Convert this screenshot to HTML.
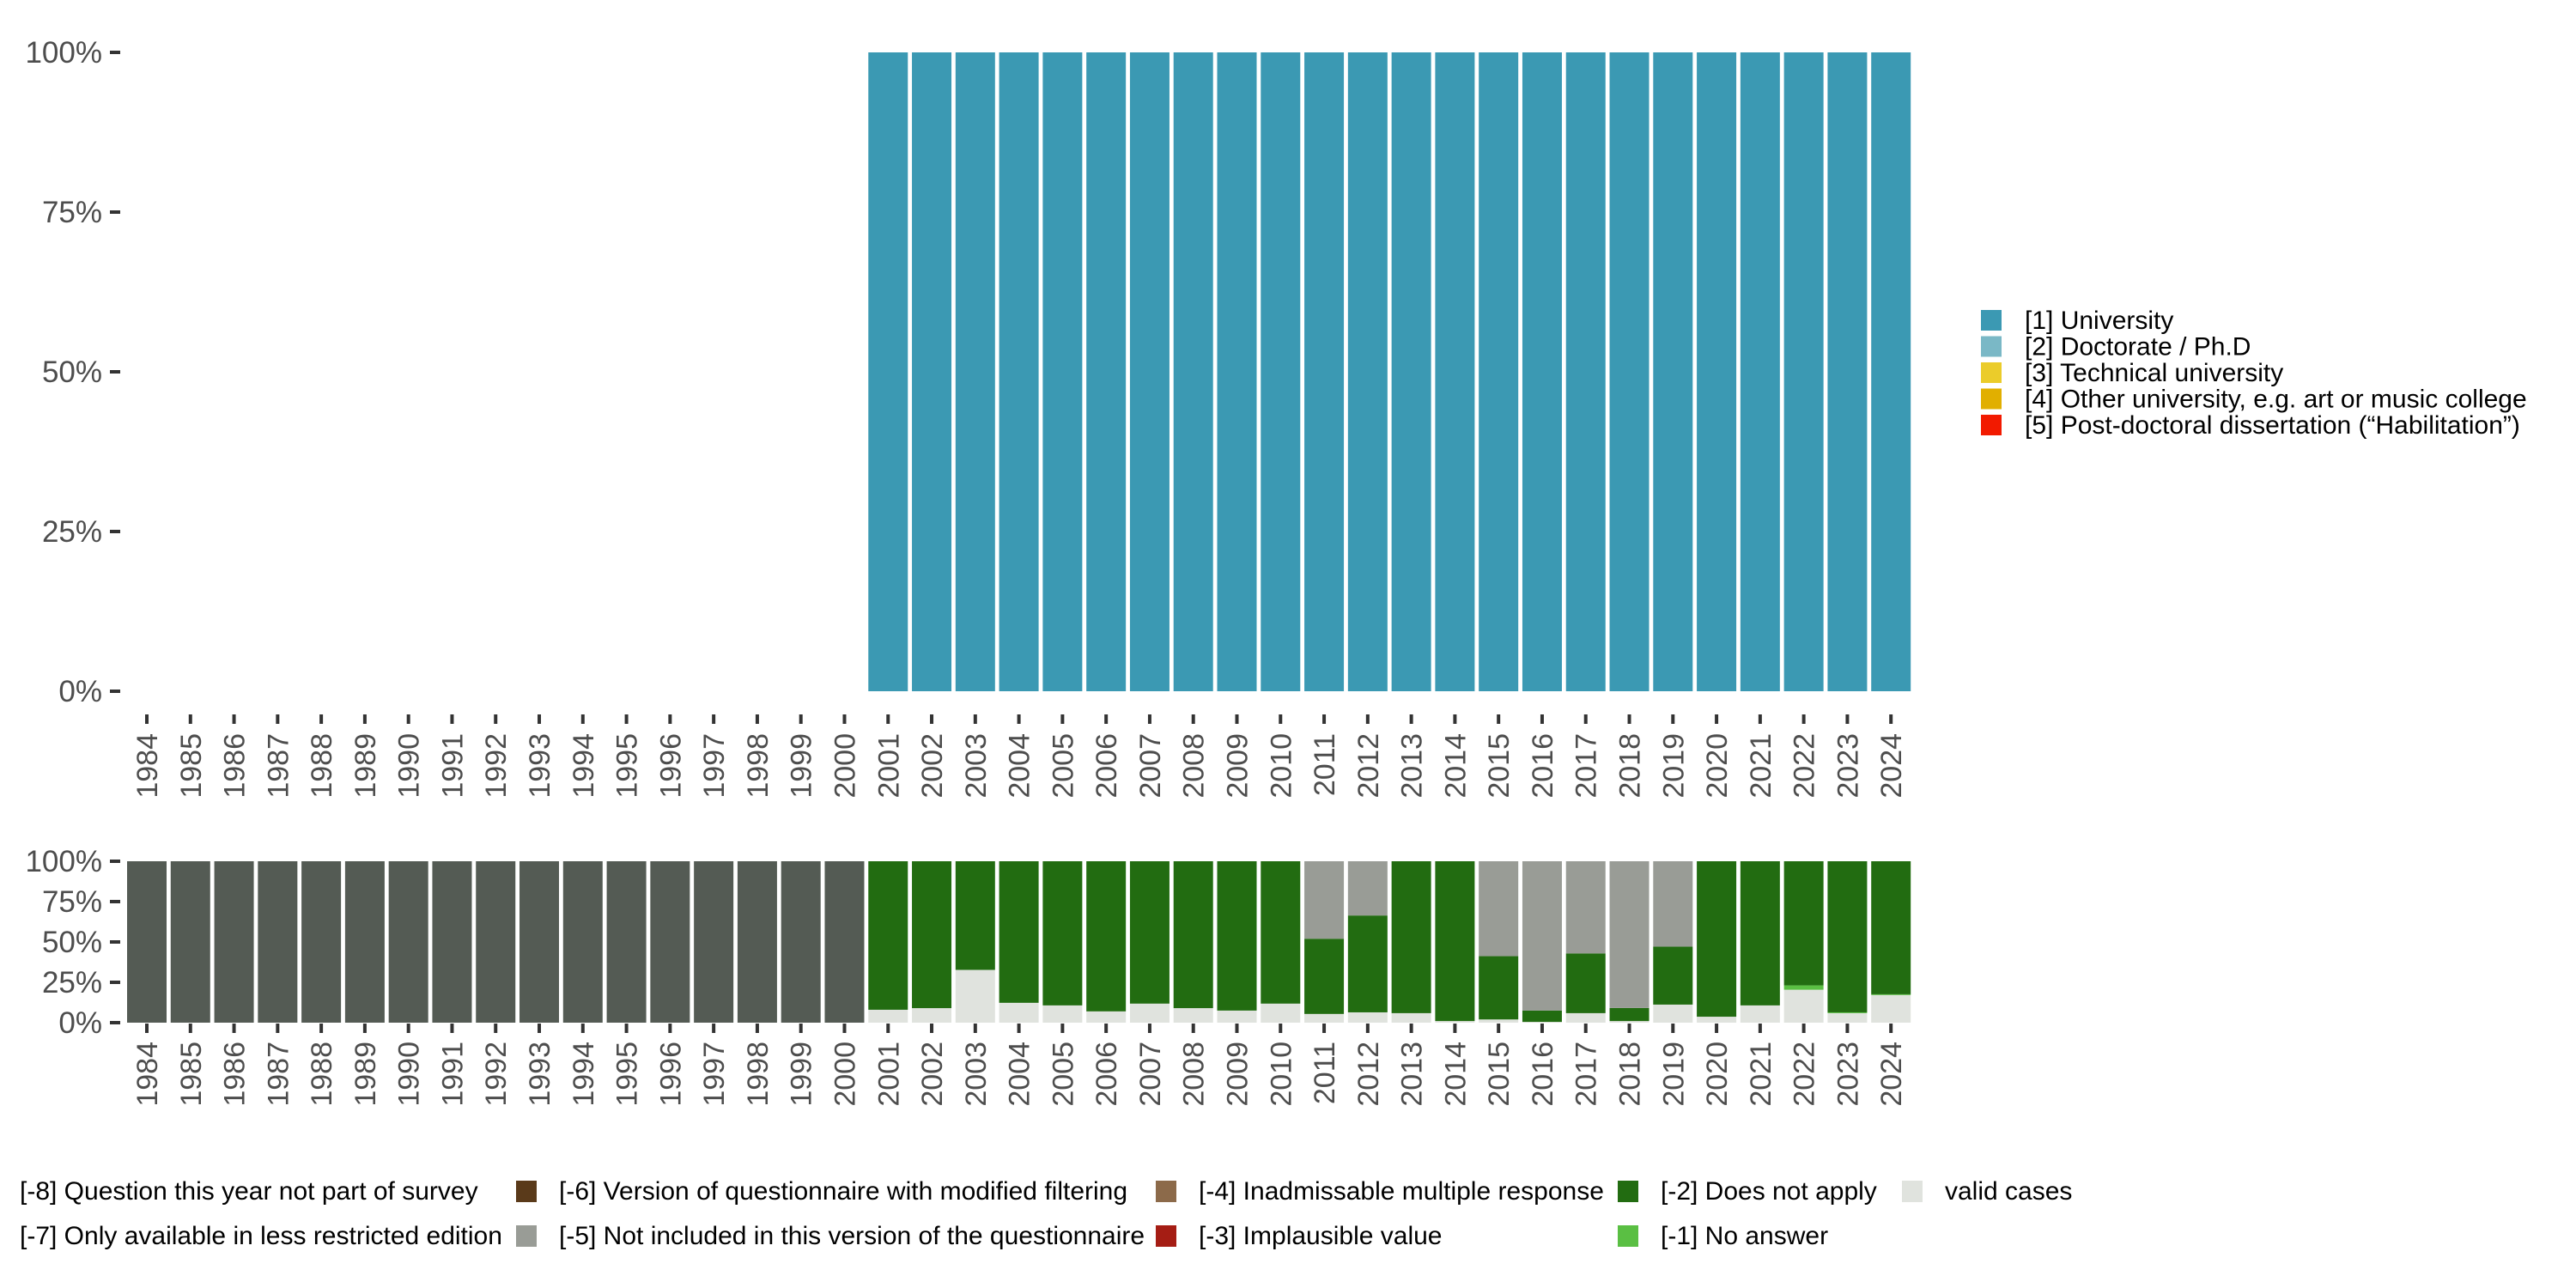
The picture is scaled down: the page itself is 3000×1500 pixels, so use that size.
<!DOCTYPE html>
<html><head><meta charset="utf-8"><style>
html,body{margin:0;padding:0;background:#fff;}
svg{display:block;font-family:"Liberation Sans",sans-serif;}
</style></head><body>
<svg id="chart" width="3000" height="1500" viewBox="0 0 3000 1500"></svg>
<script>
const years=[1984,1985,1986,1987,1988,1989,1990,1991,1992,1993,1994,1995,1996,1997,1998,1999,2000,2001,2002,2003,2004,2005,2006,2007,2008,2009,2010,2011,2012,2013,2014,2015,2016,2017,2018,2019,2020,2021,2022,2023,2024];
const university=[0,0,0,0,0,0,0,0,0,0,0,0,0,0,0,0,0,1,1,1,1,1,1,1,1,1,1,1,1,1,1,1,1,1,1,1,1,1,1,1,1];
const notSurvey=[1,1,1,1,1,1,1,1,1,1,1,1,1,1,1,1,1,0,0,0,0,0,0,0,0,0,0,0,0,0,0,0,0,0,0,0,0,0,0,0,0];
const validCases=[0,0,0,0,0,0,0,0,0,0,0,0,0,0,0,0,0,0.08,0.09,0.327,0.123,0.107,0.07,0.118,0.09,0.075,0.118,0.054,0.064,0.059,0.01,0.02,0.005,0.059,0.01,0.112,0.037,0.107,0.204,0.059,0.171];
const noAnswer=[0,0,0,0,0,0,0,0,0,0,0,0,0,0,0,0,0,0,0,0,0,0,0,0,0,0,0,0,0,0,0,0,0,0,0,0,0,0,0.027,0.005,0.005];
const notIncluded=[0,0,0,0,0,0,0,0,0,0,0,0,0,0,0,0,0,0,0,0,0,0,0,0,0,0,0,0.48,0.336,0,0,0.588,0.925,0.571,0.909,0.529,0,0,0,0,0];
const topTicks=[0,0.25,0.5,0.75,1];
const tickLabels=["0%","25%","50%","75%","100%"];

const NS="http://www.w3.org/2000/svg";
const svg=document.getElementById('chart');
function mk(tag,attrs,parent){const e=document.createElementNS(NS,tag);for(const k in attrs)e.setAttribute(k,attrs[k]);(parent||svg).appendChild(e);return e;}
const x=i=>171+i*50.78;
const bw=46;
const yTop=v=>805-v*744;
const yBot=v=>1191-v*188;
const axisCol="#4d4d4d";

function drawAxes(yf,tickTop,labelTop,prefix){
  topTicks.forEach((t,i)=>{
    const tx=mk('text',{x:119,y:yf(t)+12,'text-anchor':'end','font-size':35,fill:axisCol});
    tx.textContent=tickLabels[i];
    
    
    const l=mk('line',{x1:128,x2:140,y1:yf(t),y2:yf(t),stroke:'#333','stroke-width':4});
    
    
  });
  years.forEach((yr,i)=>{
    const cx=x(i);
    const l=mk('line',{x1:cx,x2:cx,y1:tickTop,y2:tickTop+11,stroke:'#333','stroke-width':4});
    
    
    const t=mk('text',{x:0,y:0,'text-anchor':'end','font-size':34,fill:axisCol,transform:`translate(${cx+12},${labelTop}) rotate(-90)`});
    t.textContent=yr;
    
    
  });
}

// top chart
years.forEach((yr,i)=>{
  if(university[i]>0){
    const r=mk('rect',{x:x(i)-bw/2,y:yTop(university[i]),width:bw,height:yTop(0)-yTop(university[i]),fill:'#3b99b3'});
    
    
  }
});
drawAxes(yTop,832,854,'top');

// bottom chart stacked
years.forEach((yr,i)=>{
  let base=0;
  const segs=[[validCases[i],'#e0e3de','valid'],[noAnswer[i],'#5abf43','no-answer']];
  const green=notSurvey[i]>0?0:1-validCases[i]-noAnswer[i]-notIncluded[i];
  segs.push([green,'#226c11','does-not-apply']);
  segs.push([notIncluded[i],'#999c96','not-included']);
  segs.push([notSurvey[i],'#545b54','not-in-survey']);
  segs.forEach(s=>{
    if(s[0]<=0)return;
    const r=mk('rect',{x:x(i)-bw/2,y:yBot(base+s[0]),width:bw,height:yBot(base)-yBot(base+s[0]),fill:s[1]});
    
    
    base+=s[0];
  });
});
drawAxes(yBot,1192,1213,'bottom');

// top legend
const topLeg=[['[1] University','#3b99b3'],['[2] Doctorate / Ph.D','#7ab8c6'],['[3] Technical university','#ebcc2a'],['[4] Other university, e.g. art or music college','#e1af00'],['[5] Post-doctoral dissertation (\u201cHabilitation\u201d)','#f21a00']];
topLeg.forEach((e,i)=>{
  const y=373+i*30.5;
  const r=mk('rect',{x:2307,y:y-12,width:24,height:24,fill:e[1]});
  
  
  const t=mk('text',{x:2358,y:y+10,'font-size':30,fill:'#000'});
  t.textContent=e[0];
  
  
});

// bottom legend
const botLeg=[
 [23,1387,null,'[-8] Question this year not part of survey'],
 [651,1387,'#5a3a1a','[-6] Version of questionnaire with modified filtering'],
 [1396,1387,'#8c6a4a','[-4] Inadmissable multiple response'],
 [1934,1387,'#226c11','[-2] Does not apply'],
 [2265,1387,'#e0e3de','valid cases'],
 [23,1439,null,'[-7] Only available in less restricted edition'],
 [651,1439,'#999c96','[-5] Not included in this version of the questionnaire'],
 [1396,1439,'#a51d14','[-3] Implausible value'],
 [1934,1439,'#5abf43','[-1] No answer']
];
botLeg.forEach((e,i)=>{
  const t=mk('text',{x:e[0],y:e[1]+10,'font-size':30,fill:'#000'});
  t.textContent=e[3];
  
  
});
botLeg.forEach((e,i)=>{
  if(e[2]){
    const r=mk('rect',{x:e[0]-50,y:e[1]-12,width:24,height:25,fill:e[2]});
    
    
  }
});
</script>
</body></html>
